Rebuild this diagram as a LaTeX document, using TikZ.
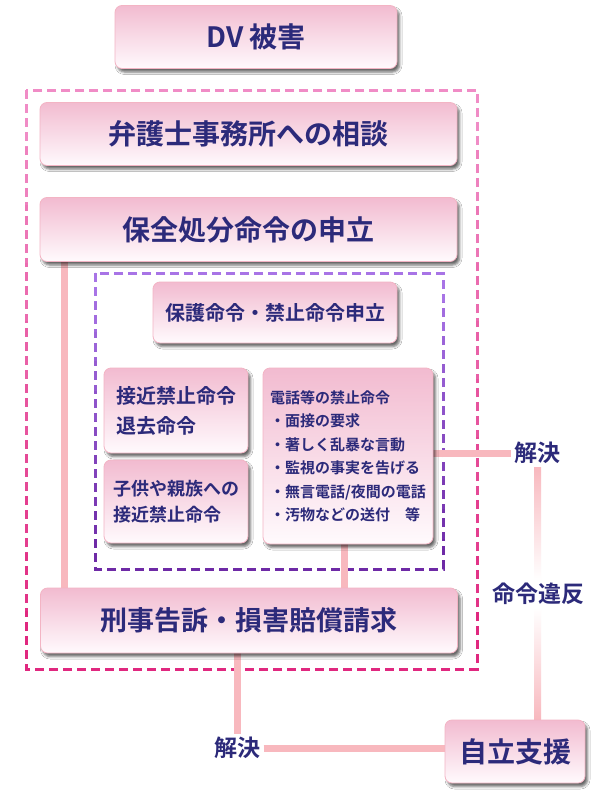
\documentclass[tikz,border=0pt]{standalone}
\usepackage{fontspec}
\newfontfamily\jpb{Noto Sans CJK JP Bold}
\usetikzlibrary{shadows.blur,backgrounds,calc}
\definecolor{txt}{RGB}{44,42,122}
\definecolor{boxtop}{RGB}{242,187,208}
\definecolor{boxbot}{RGB}{255,250,253}
\definecolor{boxline}{RGB}{243,180,196}
\definecolor{connc}{RGB}{248,184,190}
\definecolor{outT}{RGB}{240,140,198}
\definecolor{outB}{RGB}{224,40,127}
\definecolor{inT}{RGB}{168,116,230}
\definecolor{inB}{RGB}{110,42,166}
\begin{document}
\begin{tikzpicture}[x=1pt,y=-1pt,
  box/.style={draw=boxline, line width=0.8pt, rounded corners=7pt,
    top color=boxtop, bottom color=boxbot, text=txt, inner sep=0pt,
    blur shadow={shadow xshift=2.5pt, shadow yshift=-3.5pt, shadow blur radius=2.5pt, shadow opacity=60}},
  fbig/.style={font=\jpb\fontsize{28}{30}\selectfont},
  lab/.style={text=txt, font=\jpb\fontsize{23}{25}\selectfont, inner sep=3pt},
  conn/.style={draw=connc, line width=7pt},
  fdash/.style={line width=3pt, dash pattern=on 9pt off 5pt}
]
\useasboundingbox (0,0) rectangle (600,800);

% boxes
\node[box, fbig, minimum width=282pt, minimum height=63pt] (dv) at (256,37) {DV 被害};
\node[box, fbig, minimum width=417pt, minimum height=63pt] (soudan) at (248.5,134) {弁護士事務所への相談};
\node[box, fbig, minimum width=417pt, minimum height=64pt] (hozen) at (248.5,229.5) {保全処分命令の申立};
\node[box, font=\jpb\fontsize{20}{24}\selectfont, minimum width=244pt, minimum height=61pt] (hogo) at (275,312.5) {保護命令・禁止命令申立};
\node[box, font=\jpb\fontsize{20}{30}\selectfont, align=left, minimum width=144pt, minimum height=85pt] (sekkin) at (176,410.5) {接近禁止命令\\退去命令};
\node[box, font=\jpb\fontsize{18}{26}\selectfont, align=left, minimum width=144pt, minimum height=83pt] (kodomo) at (176,501.5) {子供や親族への\\接近禁止命令};
\node[box, font=\jpb\fontsize{15}{23.5}\selectfont, align=left, minimum width=170pt, minimum height=176pt] (denwa) at (348,456)
  {電話等の禁止命令\\・面接の要求\\・著しく乱暴な言動\\・監視の事実を告げる\\・無言電話/夜間の電話\\・汚物などの送付　等};
\node[box, font=\jpb\fontsize{27}{30}\selectfont, minimum width=417pt, minimum height=65pt] (keiji) at (249,620.5) {刑事告訴・損害賠償請求};
\node[box, fbig, minimum width=140pt, minimum height=63pt] (jiritsu) at (515,751.5) {自立支援};

% labels
\node[lab] (kai1) at (537.5,453) {解決};
\node[lab] (meirei) at (538,594) {命令違反};
\node[lab] (kai2) at (237.5,748) {解決};

\coordinate (xL) at (64.5,0);
\coordinate (xD) at (344,0);

\begin{pgfonlayer}{background}
\fill[white] (0,0) rectangle (600,800);
% outer frame
\foreach \i in {0,...,9}{
  \pgfmathsetmacro\ya{\i==0 ? 0 : 90+57.9*\i}
  \pgfmathsetmacro\yb{\i==9 ? 800 : 90+57.9*(\i+1)}
  \pgfmathtruncatemacro\p{round(\i*100/9)}
  \begin{scope}
    \clip (0,\ya) rectangle (600,\yb);
    \draw[fdash, draw=outB!\p!outT] (26,90) rectangle (477,669);
  \end{scope}
}
% inner frame
\foreach \i in {0,...,9}{
  \pgfmathsetmacro\ya{\i==0 ? 0 : 273+29.6*\i}
  \pgfmathsetmacro\yb{\i==9 ? 800 : 273+29.6*(\i+1)}
  \pgfmathtruncatemacro\p{round(\i*100/9)}
  \begin{scope}
    \clip (0,\ya) rectangle (600,\yb);
    \draw[fdash, draw=inB!\p!inT] (95,273) rectangle (443,569);
  \end{scope}
}
% connectors
\draw[conn] (hozen.south -| xL) -- (keiji.north -| xL);
\draw[conn] (denwa.south -| xD) -- (keiji.north -| xD);
\draw[conn] (denwa.east |- kai1) -- (kai1.west);
\draw[conn] (keiji.south -| kai2) -- (kai2.north);
\draw[conn] (kai2.east) -- (kai2.east -| jiritsu.west);
\shade[top color=connc, bottom color=white] ($(kai1.south)+(-3.5,0)$) rectangle ($(kai1.south |- meirei.north)+(3.5,0)$);
\shade[top color=white, bottom color=connc] ($(kai1.south |- meirei.south)+(-3.5,0)$) rectangle ($(kai1.south |- jiritsu.north)+(3.5,0)$);
\end{pgfonlayer}
\end{tikzpicture}
\end{document}
